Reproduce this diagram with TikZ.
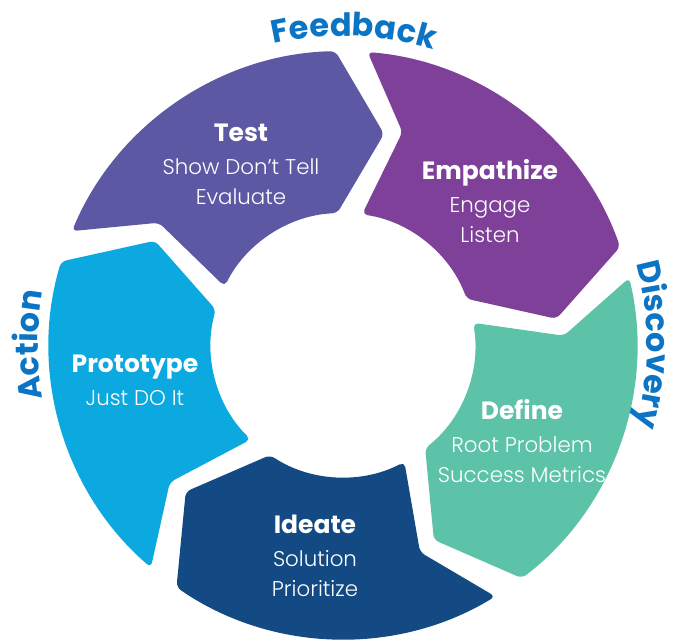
\documentclass[tikz,border=0pt]{standalone}
\usepackage{fontspec}
\setmainfont{Poppins}[UprightFont=* Light, BoldFont=* Bold]
\usepackage{tikz}
\usetikzlibrary{decorations.text}

\definecolor{testcol}{HTML}{5C58A3}
\definecolor{empcol}{HTML}{7E4098}
\definecolor{defcol}{HTML}{5CC2A8}
\definecolor{ideacol}{HTML}{144A83}
\definecolor{protcol}{HTML}{0BA9DF}
\definecolor{phasecol}{HTML}{0B74C4}

\newcommand{\phasefont}{\bfseries\fontsize{24}{29}\selectfont}
\newcommand{\steptitle}[1]{{\bfseries\fontsize{18.75}{24}\selectfont #1}}

\tikzset{
  segment/.style={rounded corners=4pt},
  steptext/.style={text=white, align=center, font=\fontsize{16}{22.5}\selectfont}
}

\begin{document}
\begin{tikzpicture}[x=0.75pt,y=0.75pt]
	\useasboundingbox (-343,-294) rectangle (330,345);
	% ring of five arrows, clockwise
	\foreach \b/\col in {88/testcol,16/empcol,-56/defcol,-128/ideacol,-200/protcol}{
		\pgfmathsetmacro{\oa}{\b+69.2}
		\pgfmathsetmacro{\ob}{\b+3.5}
		\pgfmathsetmacro{\tp}{\b-9}
		\pgfmathsetmacro{\ib}{\b+4.5}
		\pgfmathsetmacro{\ia}{\b+65.7}
		\pgfmathsetmacro{\nt}{\b+58.4}
		\fill[\col,segment] (\oa:294) arc[start angle=\oa, end angle=\ob, radius=294]
			-- (\tp:215) -- (\ib:132) arc[start angle=\ib, end angle=\ia, radius=132]
			-- (\nt:221) -- cycle;
	}
	% step texts
	\node[steptext] (test) at (-102,181) {\steptitle{Test}\\[2.25pt]Show Don’t Tell\\Evaluate};
	\node[steptext] (empathize) at (147,144) {\steptitle{Empathize}\\[2.25pt]Engage\\Listen};
	\node[steptext] (define) at (179,-96) {\steptitle{Define}\\[2.25pt]Root Problem\\Success Metrics};
	\node[steptext] (ideate) at (-28,-211) {\steptitle{Ideate}\\[2.25pt]Solution\\Prioritize};
	\node[steptext] (prototype) at (-208,-35) {\steptitle{Prototype}\\[2.25pt]Just DO It};
	% phase labels round the ring
	\path[decorate,decoration={text along path,text align=center,
		text={|\color{phasecol}\phasefont|Feedback}}]
		(118:309) arc[start angle=118, end angle=58, radius=309];
	\path[decorate,decoration={text along path,text align=center,
		text={|\color{phasecol}\phasefont|Discovery}}]
		(30:304) arc[start angle=30, end angle=-30, radius=304];
	\path[decorate,decoration={text along path,text align=center,
		text={|\color{phasecol}\phasefont|Action}}]
		(210:305) arc[start angle=210, end angle=150, radius=305];
\end{tikzpicture}
\end{document}
